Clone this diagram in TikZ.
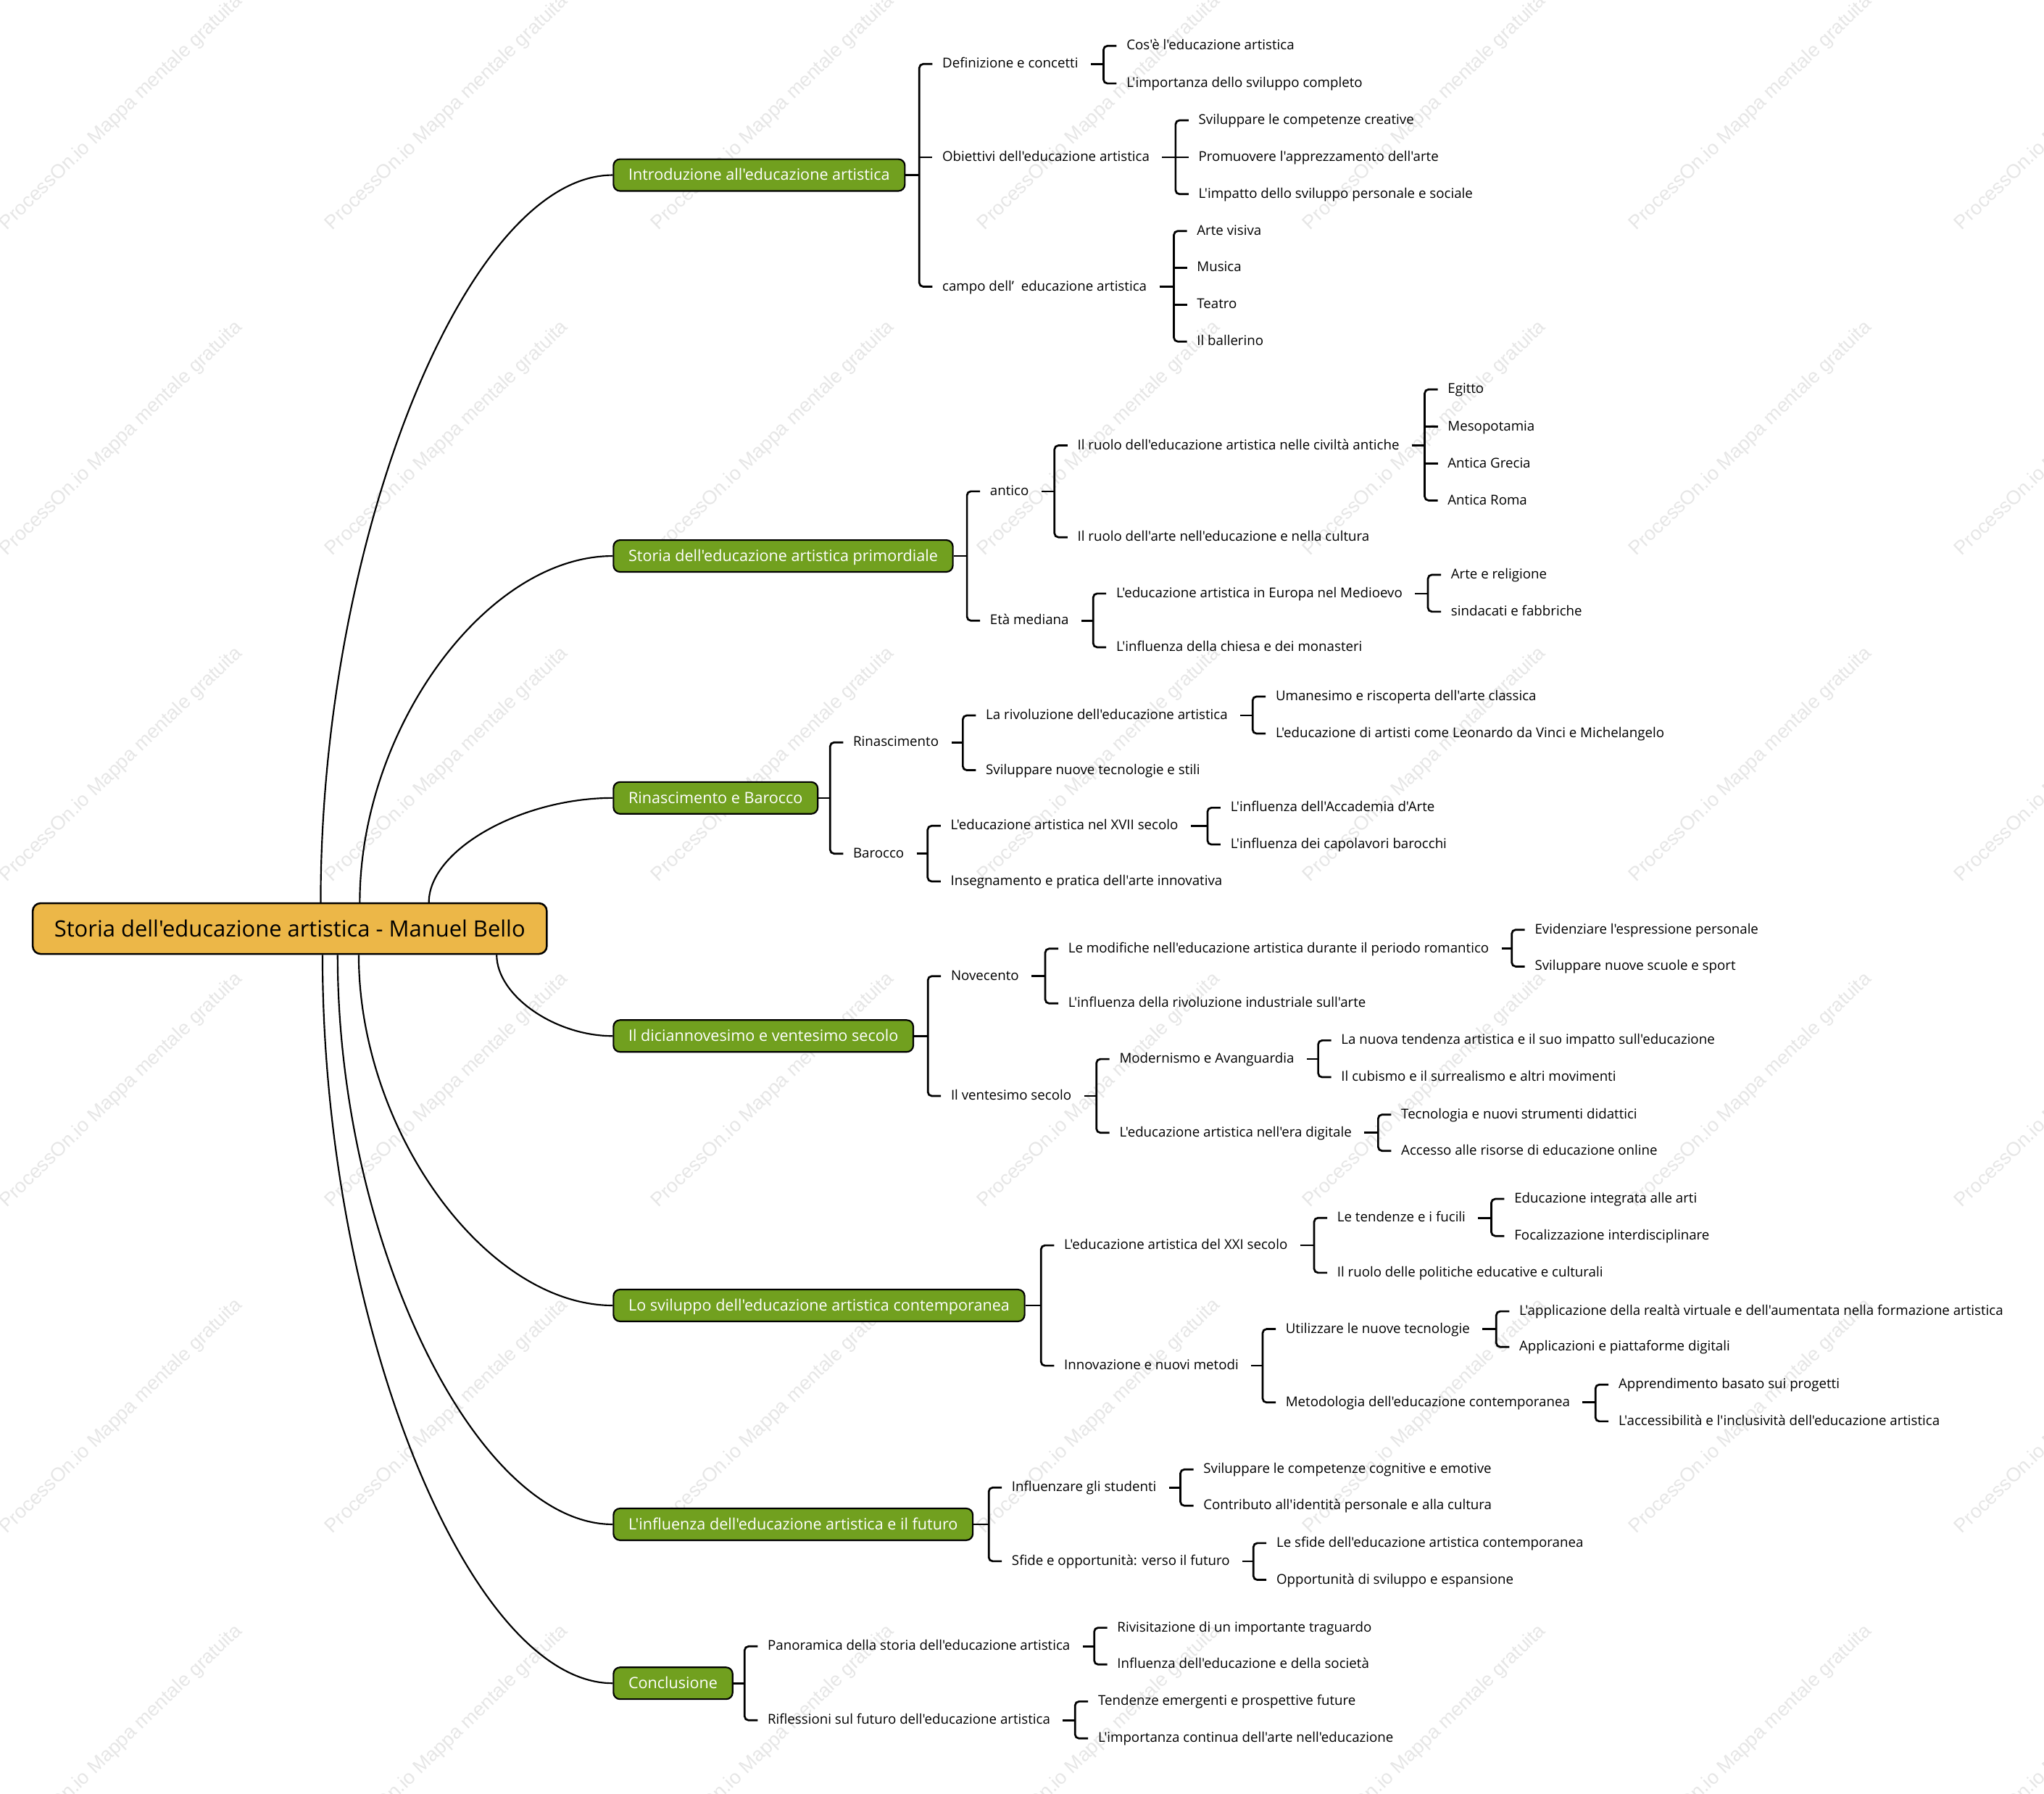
\documentclass[tikz,border=0pt]{standalone}
\usepackage{fontspec}
\setmainfont{Open Sans}[Ligatures=TeXOff]
\newfontfamily\markfont{Liberation Sans}
\usetikzlibrary{calc}

\definecolor{rootorange}{HTML}{ECB748}
\definecolor{topicgreen}{HTML}{71A01F}
\definecolor{markgray}{HTML}{E6E6E6}

\tikzset{
  root/.style={draw, line width=1.4pt, fill=rootorange, rounded corners=6pt,
    font=\fontsize{17.2}{20}\selectfont, anchor=west, minimum height=38.9pt,
    inner xsep=16.5pt, inner ysep=0pt, text height=14pt, text depth=1pt},
  topic/.style={draw, line width=1.2pt, fill=topicgreen, text=white, rounded corners=5pt,
    font=\fontsize{12}{14}\selectfont, anchor=west, minimum height=24.4pt,
    inner xsep=11.5pt, inner ysep=0pt, text height=10pt, text depth=2pt},
  leaf/.style={font=\fontsize{10.4}{12}\selectfont, anchor=west,
    inner xsep=9.5pt, inner ysep=1pt, text height=7.6pt, text depth=1.4pt},
  watermark/.style={font=\markfont\fontsize{15}{18}\selectfont, text=markgray,
    rotate=44, anchor=base west, inner sep=0pt},
  branch/.style={line width=1.2pt},
  brace/.style={line width=1.5pt, rounded corners=3pt},
}

% curved line from the root to a topic
\newcommand{\rootbranch}[2]{%
  \coordinate (rk) at (#1 |- #2.west);
  \draw[branch] (#1) .. controls ($(#1)!.5!(rk)$) and ($(#2.west)!.5!(rk)$) .. (#2.west);
}
% bracket from a parent to its first and last child
\newcommand{\forkto}[3]{%
  \coordinate (fk) at ([xshift=-8pt]#2.west);
  \draw[brace] (#1.east) -- (#1.east -| fk);
  \draw[brace] ([xshift=2pt]#2.west) -- (fk) -- (fk |- #3.west) -- ([xshift=2pt]#3.west);
}
% tick for a child in the middle
\newcommand{\leaftick}[1]{\draw[brace] (fk |- #1.west) -- ([xshift=2pt]#1.west);}

\begin{document}
\begin{tikzpicture}[x=1pt,y=-1pt]
\useasboundingbox (0,0) rectangle (1568,1376);

% watermark
\foreach \i in {0,...,6}{
  \foreach \j in {0,...,5}{
    \node[watermark] (wm\i\j) at (5+250*\i,177+250*\j) {ProcessOn.io Mappa mentale gratuita};
  }
}

\node[root] (root) at (24.4,712.3) {Storia dell'educazione artistica - Manuel Bello};

\node[topic] (intro) at (470,134.3) {Introduzione all'educazione artistica};
\node[topic] (prim) at (470,426.5) {Storia dell'educazione artistica primordiale};
\node[topic] (rina) at (470,612.1) {Rinascimento e Barocco};
\node[topic] (otto) at (470,794.7) {Il diciannovesimo e ventesimo secolo};
\node[topic] (cont) at (470,1001.4) {Lo sviluppo dell'educazione artistica contemporanea};
\node[topic] (futu) at (470,1169.3) {L'influenza dell'educazione artistica e il futuro};
\node[topic] (conc) at (470,1291.2) {Conclusione};

% Introduzione
\node[leaf] (def) at (713.2,49.1) {Definizione e concetti};
\node[leaf] (def1) at (854.5,35.2) {Cos'è l'educazione artistica};
\node[leaf] (def2) at (854.5,64.0) {L'importanza dello sviluppo completo};
\node[leaf] (obi) at (713.2,120.7) {Obiettivi dell'educazione artistica};
\node[leaf] (obi1) at (909.8,92.3) {Sviluppare le competenze creative};
\node[leaf] (obi2) at (909.8,120.7) {Promuovere l'apprezzamento dell'arte};
\node[leaf] (obi3) at (909.8,148.9) {L'impatto dello sviluppo personale e sociale};
\node[leaf] (cam) at (713.2,219.9) {campo dell’\ \ educazione artistica};
\node[leaf] (cam1) at (908.5,177.2) {Arte visiva};
\node[leaf] (cam2) at (908.5,205.4) {Musica};
\node[leaf] (cam3) at (908.5,233.7) {Teatro};
\node[leaf] (cam4) at (908.5,262.0) {Il ballerino};

% Storia primordiale
\node[leaf] (ant) at (749.8,376.9) {antico};
\node[leaf] (ant1) at (816.9,341.7) {Il ruolo dell'educazione artistica nelle civiltà antiche};
\node[leaf] (ant11) at (1100.9,298.7) {Egitto};
\node[leaf] (ant12) at (1100.9,327.4) {Mesopotamia};
\node[leaf] (ant13) at (1100.9,355.6) {Antica Grecia};
\node[leaf] (ant14) at (1100.9,383.9) {Antica Roma};
\node[leaf] (ant2) at (816.9,412.1) {Il ruolo dell'arte nell'educazione e nella cultura};
\node[leaf] (med) at (749.8,476.1) {Età mediana};
\node[leaf] (med1) at (846.6,455.3) {L'educazione artistica in Europa nel Medioevo};
\node[leaf] (med11) at (1103.4,440.9) {Arte e religione};
\node[leaf] (med12) at (1103.4,469.2) {sindacati e fabbriche};
\node[leaf] (med2) at (846.6,496.5) {L'influenza della chiesa e dei monasteri};

% Rinascimento e Barocco
\node[leaf] (ren) at (644.8,569.5) {Rinascimento};
\node[leaf] (ren1) at (746.6,548.8) {La rivoluzione dell'educazione artistica};
\node[leaf] (ren11) at (968.9,534.3) {Umanesimo e riscoperta dell'arte classica};
\node[leaf] (ren12) at (968.9,562.7) {L'educazione di artisti come Leonardo da Vinci e Michelangelo};
\node[leaf] (ren2) at (746.6,590.8) {Sviluppare nuove tecnologie e stili};
\node[leaf] (baro) at (644.8,654.8) {Barocco};
\node[leaf] (baro1) at (719.6,633.5) {L'educazione artistica nel XVII secolo};
\node[leaf] (baro11) at (934.3,619.6) {L'influenza dell'Accademia d'Arte};
\node[leaf] (baro12) at (934.3,647.8) {L'influenza dei capolavori barocchi};
\node[leaf] (baro2) at (719.6,676.1) {Insegnamento e pratica dell'arte innovativa};

% Ottocento e Novecento
\node[leaf] (nov) at (719.8,748.8) {Novecento};
\node[leaf] (nov1) at (809.8,727.7) {Le modifiche nell'educazione artistica durante il periodo romantico};
\node[leaf] (nov11) at (1167.7,713.2) {Evidenziare l'espressione personale};
\node[leaf] (nov12) at (1167.7,741.4) {Sviluppare nuove scuole e sport};
\node[leaf] (nov2) at (809.8,769.7) {L'influenza della rivoluzione industriale sull'arte};
\node[leaf] (ven) at (719.8,840.7) {Il ventesimo secolo};
\node[leaf] (ven1) at (849.1,812.4) {Modernismo e Avanguardia};
\node[leaf] (ven11) at (1019.2,798.1) {La nuova tendenza artistica e il suo impatto sull'educazione};
\node[leaf] (ven12) at (1019.2,826.3) {Il cubismo e il surrealismo e altri movimenti};
\node[leaf] (ven2) at (849.1,868.9) {L'educazione artistica nell'era digitale};
\node[leaf] (ven21) at (1065.2,855.0) {Tecnologia e nuovi strumenti didattici};
\node[leaf] (ven22) at (1065.2,882.8) {Accesso alle risorse di educazione online};

% contemporanea
\node[leaf] (xxi) at (806.6,955.3) {L'educazione artistica del XXI secolo};
\node[leaf] (xxi1) at (1016.1,934.2) {Le tendenze e i fucili};
\node[leaf] (xxi11) at (1152.0,919.7) {Educazione integrata alle arti};
\node[leaf] (xxi12) at (1152.0,948.1) {Focalizzazione interdisciplinare};
\node[leaf] (xxi2) at (1016.1,976.3) {Il ruolo delle politiche educative e culturali};
\node[leaf] (inn) at (806.6,1047.6) {Innovazione e nuovi metodi};
\node[leaf] (inn1) at (976.6,1019.5) {Utilizzare le nuove tecnologie};
\node[leaf] (inn11) at (1155.8,1005.9) {L'applicazione della realtà virtuale e dell'aumentata nella formazione artistica};
\node[leaf] (inn12) at (1155.8,1033.2) {Applicazioni e piattaforme digitali};
\node[leaf] (inn2) at (976.6,1075.8) {Metodologia dell'educazione contemporanea};
\node[leaf] (inn21) at (1231.9,1062.1) {Apprendimento basato sui progetti};
\node[leaf] (inn22) at (1231.9,1090.3) {L'accessibilità e l'inclusività dell'educazione artistica};

% futuro
\node[leaf] (stu) at (766.5,1141.1) {Influenzare gli studenti};
\node[leaf] (stu1) at (913.5,1127.2) {Sviluppare le competenze cognitive e emotive};
\node[leaf] (stu2) at (913.5,1155.0) {Contributo all'identità personale e alla cultura};
\node[leaf] (sfi) at (766.5,1197.6) {Sfide e opportunità: verso il futuro};
\node[leaf] (sfi1) at (969.5,1183.7) {Le sfide dell'educazione artistica contemporanea};
\node[leaf] (sfi2) at (969.5,1211.9) {Opportunità di sviluppo e espansione};

% Conclusione
\node[leaf] (pan) at (579.2,1262.9) {Panoramica della storia dell'educazione artistica};
\node[leaf] (pan1) at (847.4,1248.6) {Rivisitazione di un importante traguardo};
\node[leaf] (pan2) at (847.4,1276.8) {Influenza dell'educazione e della società};
\node[leaf] (rif) at (579.2,1319.6) {Riflessioni sul futuro dell'educazione artistica};
\node[leaf] (rif1) at (832.7,1305.2) {Tendenze emergenti e prospettive future};
\node[leaf] (rif2) at (832.7,1333.5) {L'importanza continua dell'arte nell'educazione};

% root branches
\coordinate (s1) at ([xshift=221.6pt]root.north west);
\coordinate (s2) at ([xshift=251.6pt]root.north west);
\coordinate (s3) at ([xshift=304.6pt]root.north west);
\coordinate (s4) at ([xshift=356.6pt]root.south west);
\coordinate (s5) at ([xshift=250.8pt]root.south west);
\coordinate (s6) at ([xshift=234.6pt]root.south west);
\coordinate (s7) at ([xshift=223pt]root.south west);
\rootbranch{s1}{intro}
\rootbranch{s2}{prim}
\rootbranch{s3}{rina}
\rootbranch{s4}{otto}
\rootbranch{s5}{cont}
\rootbranch{s6}{futu}
\rootbranch{s7}{conc}

% brackets
\forkto{intro}{def}{cam} \leaftick{obi}
\forkto{def}{def1}{def2}
\forkto{obi}{obi1}{obi3} \leaftick{obi2}
\forkto{cam}{cam1}{cam4} \leaftick{cam2} \leaftick{cam3}

\forkto{prim}{ant}{med}
\forkto{ant}{ant1}{ant2}
\forkto{ant1}{ant11}{ant14} \leaftick{ant12} \leaftick{ant13}
\forkto{med}{med1}{med2}
\forkto{med1}{med11}{med12}

\forkto{rina}{ren}{baro}
\forkto{ren}{ren1}{ren2}
\forkto{ren1}{ren11}{ren12}
\forkto{baro}{baro1}{baro2}
\forkto{baro1}{baro11}{baro12}

\forkto{otto}{nov}{ven}
\forkto{nov}{nov1}{nov2}
\forkto{nov1}{nov11}{nov12}
\forkto{ven}{ven1}{ven2}
\forkto{ven1}{ven11}{ven12}
\forkto{ven2}{ven21}{ven22}

\forkto{cont}{xxi}{inn}
\forkto{xxi}{xxi1}{xxi2}
\forkto{xxi1}{xxi11}{xxi12}
\forkto{inn}{inn1}{inn2}
\forkto{inn1}{inn11}{inn12}
\forkto{inn2}{inn21}{inn22}

\forkto{futu}{stu}{sfi}
\forkto{stu}{stu1}{stu2}
\forkto{sfi}{sfi1}{sfi2}

\forkto{conc}{pan}{rif}
\forkto{pan}{pan1}{pan2}
\forkto{rif}{rif1}{rif2}
\end{tikzpicture}
\end{document}
